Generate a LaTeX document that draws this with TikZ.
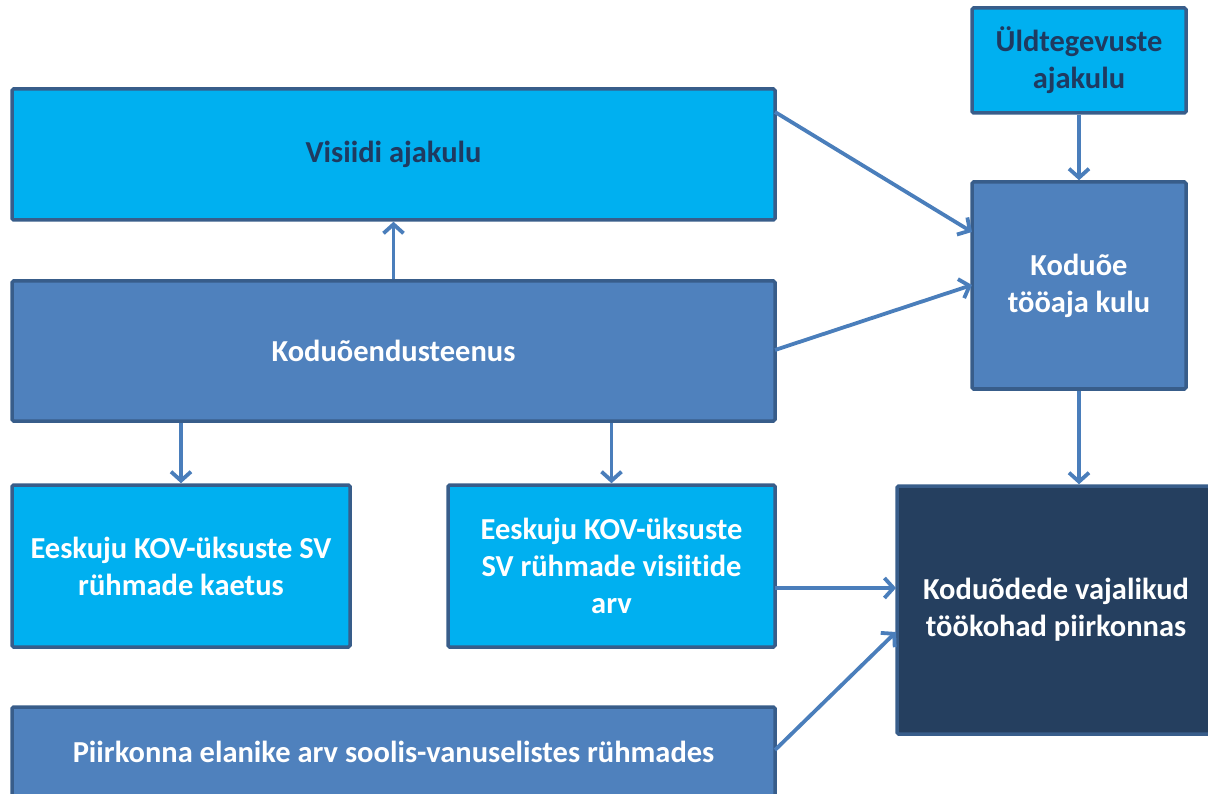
\documentclass[tikz,border=0pt]{standalone}
\usepackage{fontspec}
\setmainfont{Carlito}[Ligatures=NoCommon]
\usetikzlibrary{arrows.meta}
\definecolor{lightbox}{HTML}{00B0F0}
\definecolor{midbox}{HTML}{4F81BD}
\definecolor{darkbox}{HTML}{253F5F}
\definecolor{edgecol}{HTML}{385D8A}
\definecolor{arrowcol}{HTML}{4A7EBB}
\definecolor{navytext}{HTML}{1F3A60}
\begin{document}
\begin{tikzpicture}[x=1pt,y=-1pt,
  box/.style={draw=edgecol, line width=3.5pt, rounded corners=1.5pt, align=center,
    font=\fontsize{30.5}{37}\selectfont\bfseries, inner sep=0pt},
  lightb/.style={box, fill=lightbox},
  midb/.style={box, fill=midbox, text=white},
  darkb/.style={box, fill=darkbox, text=white},
  conn/.style={draw=arrowcol, line width=3.8pt,
    -{Straight Barb[length=9pt,width=20pt,line width=3.8pt]}}]
\useasboundingbox (0,0) rectangle (1208,794);

\node[lightb, text=navytext, minimum width=763pt, minimum height=131pt] (visiit) at (393.5,154.5) {Visiidi ajakulu};
\node[lightb, text=navytext, minimum width=214pt, minimum height=105pt] (yld) at (1079,60.5) {Üldtegevuste\\ajakulu};
\node[midb, minimum width=214pt, minimum height=207pt] (kulu) at (1079,285.5) {Koduõe\\tööaja kulu};
\node[midb, minimum width=763pt, minimum height=140pt] (teenus) at (393.5,351) {Koduõendusteenus};
\node[lightb, text=white, minimum width=338pt, minimum height=162pt] (kaetus) at (181,566) {Eeskuju KOV-üksuste SV\\rühmade kaetus};
\node[lightb, text=white, minimum width=327pt, minimum height=162pt] (visarv) at (611.5,566) {Eeskuju KOV-üksuste\\SV rühmade visiitide\\arv};
\node[darkb, minimum width=318pt, minimum height=248pt] (kohad) at (1056,610) {Koduõdede vajalikud\\töökohad piirkonnas};
\node[midb, minimum width=763pt, minimum height=90pt] (elanik) at (393.5,752) {Piirkonna elanike arv soolis-vanuselistes rühmades};

\coordinate (visR) at (775,112);
\coordinate (kuluL1) at (972,232);
\coordinate (tenR) at (775,350);
\coordinate (kuluL2) at (972,285);
\coordinate (visarvR) at (775,588);
\coordinate (kohadL1) at (896,588);
\coordinate (elanikR) at (775,750);
\coordinate (kohadL2) at (896,632);

\draw[conn] (visR) -- (kuluL1);
\draw[conn] (tenR) -- (kuluL2);
\draw[conn] (teenus.north -| visiit.south) -- (visiit.south);
\draw[conn] (yld.south) -- (kulu.north);
\draw[conn] (kulu.south) -- (kohad.north -| kulu.south);
\draw[conn] (teenus.south -| kaetus.north) -- (kaetus.north);
\draw[conn] (teenus.south -| visarv.north) -- (visarv.north);
\draw[conn] (visarvR) -- (kohadL1);
\draw[conn] (elanikR) -- (kohadL2);
\end{tikzpicture}
\end{document}
